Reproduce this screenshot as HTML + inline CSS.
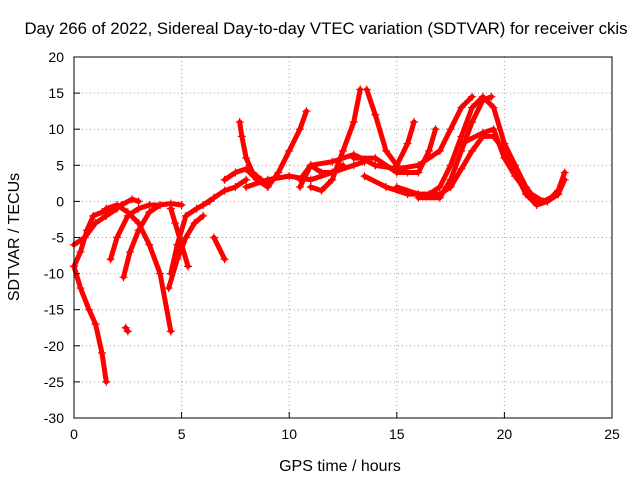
<!DOCTYPE html>
<html><head><meta charset="utf-8"><style>
body{margin:0;background:#fff}
svg{display:block;font-family:"Liberation Sans",sans-serif}
</style></head><body>
<svg id="chart" width="640" height="480" viewBox="0 0 640 480">
<rect width="640" height="480" fill="#fff"/>
<text x="326" y="34" text-anchor="middle" font-size="16.8">Day 266 of 2022, Sidereal Day-to-day VTEC variation (SDTVAR) for receiver ckis</text>
<text x="340" y="471" text-anchor="middle" font-size="16">GPS time / hours</text>
<text transform="translate(19,237) rotate(-90)" text-anchor="middle" font-size="16">SDTVAR / TECUs</text>
<g id="grid"></g><g id="series"></g><g id="axes"></g>
</svg>
<script>
const xTicks=[0,5,10,15,20,25];
const yTicks=[20,15,10,5,0,-5,-10,-15,-20,-25,-30];
const tracks=[
[[0,-9],[0.3,-12],[0.7,-15],[1.0,-17],[1.3,-21],[1.5,-25]],
[[0,-9],[0.3,-7],[0.6,-4],[0.9,-2],[1.3,-1.5],[1.8,-1],[2.2,-0.5],[2.7,0.3],[3.0,0]],
[[0,-6],[0.5,-5],[1,-3],[1.5,-2],[2,-1]],
[[1.7,-8],[2,-5],[2.5,-2],[3,-1],[3.5,-0.5],[4,-0.5],[4.5,-0.3],[5,-0.5]],
[[2.3,-10.5],[2.6,-7],[3,-4],[3.5,-1.5],[4,-0.5]],
[[1.5,-1],[2,-0.5],[2.5,-1.5],[3,-3],[3.5,-6],[4,-10],[4.5,-18]],
[[4.4,-12],[4.8,-8],[5.2,-5],[5.6,-3],[6,-2]],
[[4.5,-10],[4.8,-6],[5.2,-2],[5.7,-1],[6.3,0]],
[[5.3,-9],[5.0,-6],[4.7,-3],[4.5,-1]],
[[6.5,-5],[7,-8]],
[[2.4,-17.5],[2.5,-18]],
[[6,-0.5],[6.5,0.5],[7,1.5],[7.5,2],[8,3]],
[[7.7,11],[7.8,9],[8,6],[8.3,4],[8.7,3],[9,2.5]],
[[7,3],[7.5,4],[8,4.5],[8.5,3],[9,2]],
[[9,2],[9.5,4],[10,7],[10.5,10],[10.8,12.5]],
[[10.5,2],[11,5],[11.5,4],[12,4],[12.5,5]],
[[11,2],[11.5,1.5],[12,3],[12.5,7],[13,11],[13.3,15.5]],
[[13.6,15.5],[14,12],[14.5,7],[15,5],[15.5,8],[15.8,11]],
[[13,6],[14,6],[15,4],[15.5,4],[16,4],[16.5,7],[16.8,10]],
[[13.5,3.5],[14.5,2],[15.5,1],[16.5,1],[17,2],[17.5,5],[18,9],[18.5,13],[19,14.5],[19.5,13],[20,8],[20.5,5],[21,2],[21.5,0],[22,0],[22.5,1.5],[22.8,4]],
[[15,2],[16,1],[17,1],[17.5,2],[18,4.5],[18.5,7],[19,9],[19.5,9],[20,7],[20.5,4],[21,1],[21.5,-0.5],[22,0],[22.5,1],[22.8,3]],
[[16,0.5],[17,0.5],[17.5,3],[18,7],[18.5,11],[19,14],[19.4,14.5]],
[[18,8],[19,9.5],[19.5,10],[20,6],[20.5,3.5],[21,1.5],[21.8,0],[22.5,1]],
[[8,2],[9,3],[10,3.5],[11,3],[12,4],[13,5],[13.5,5.5]],
[[14,5],[15,4.5],[16,5],[17,7],[17.5,10],[18,13],[18.5,14.5]],
[[10.5,3],[11,5],[12,5.5],[13,6.5],[14,5]]
];
const L=74,R=612,T=57,B=418,X0=0,X1=25,Y0=-30,Y1=20;
const sx=v=>L+(v-X0)/(X1-X0)*(R-L);
const sy=v=>B-(v-Y0)/(Y1-Y0)*(B-T);
const NS="http://www.w3.org/2000/svg";
function mk(t,a,p){const e=document.createElementNS(NS,t);for(const k in a)e.setAttribute(k,a[k]);p.appendChild(e);return e;}
const grid=document.getElementById('grid'),axes=document.getElementById('axes'),ser=document.getElementById('series');
xTicks.forEach(v=>{
 const x=sx(v);
 if(v>X0&&v<X1){const g=mk('line',{x1:x,x2:x,y1:T,y2:B,stroke:'#a0a0a0','stroke-dasharray':'1,3'},grid);
 
 }
 const tk=mk('line',{x1:x,x2:x,y1:B,y2:B-6,stroke:'#000'},axes);
 
 
 const t=mk('text',{x:x,y:B+21,'text-anchor':'middle','font-size':'14'},axes);t.textContent=v;
 
 
});
yTicks.forEach(v=>{
 const y=sy(v);
 if(v>Y0&&v<Y1){const g=mk('line',{x1:L,x2:R,y1:y,y2:y,stroke:'#a0a0a0','stroke-dasharray':'1,3'},grid);
 
 }
 const tk=mk('line',{x1:L,x2:L+6,y1:y,y2:y,stroke:'#000'},axes);
 
 
 const t=mk('text',{x:L-10,y:y+5,'text-anchor':'end','font-size':'14'},axes);t.textContent=v;
 
 
});
const fr=mk('rect',{x:L,y:T,width:R-L,height:B-T,fill:'none',stroke:'#000'},axes);


tracks.forEach((tr,i)=>{
 const pl=mk('polyline',{points:tr.map(p=>sx(p[0])+','+sy(p[1])).join(' '),fill:'none',stroke:'#f00','stroke-width':5,'stroke-linejoin':'round','stroke-linecap':'round'},ser);
 
 
 tr.forEach(p=>{
  const x=sx(p[0]),y=sy(p[1]);
  const m=mk('path',{d:`M${x-4},${y}H${x+4}M${x},${y-4}V${y+4}`,stroke:'#f00','stroke-width':1.2},ser);
  
  
 });
});
</script>
</body></html>
